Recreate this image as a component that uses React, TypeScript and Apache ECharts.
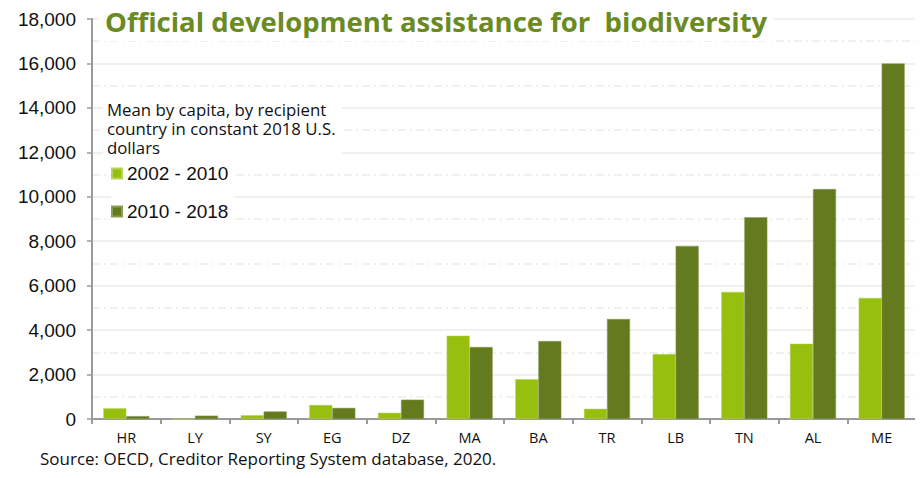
import React, { useEffect, useRef } from "react";
import * as echarts from "echarts";

const categories = ["HR", "LY", "SY", "EG", "DZ", "MA", "BA", "TR", "LB", "TN", "AL", "ME"];
const period1 = [480, 0, 170, 630, 280, 3750, 1790, 460, 2920, 5720, 3390, 5450];
const period2 = [130, 150, 340, 500, 870, 3240, 3510, 4500, 7790, 9080, 10350, 16000];
const seriesNames = ["2002 - 2010", "2010 - 2018"];
const yTicks = { min: 0, max: 18000, interval: 2000 };
const titleText = "Official development assistance for  biodiversity";
const noteText = "Mean by capita, by recipient\ncountry in constant 2018 U.S.\ndollars";
const sourceText = "Source: OECD, Creditor Reporting System database, 2020.";

const LIGHT = "#97bf0d";
const DARK = "#647a1f";

export default function App() {
  const ref = useRef<HTMLDivElement>(null);
  useEffect(() => {
    if (!ref.current) return;
    const chart = echarts.init(ref.current, null, { renderer: "svg" });
    chart.setOption({
      animation: false,
      backgroundColor: "#ffffff",
      grid: { left: 92, right: 7, top: 19, bottom: 59, containLabel: false },
      title: {
        text: titleText,
        left: 99,
        top: 4,
        padding: [3, 6, 6, 6],
        backgroundColor: "#ffffff",
        textStyle: {
          fontFamily: "Open Sans",
          fontWeight: "bold",
          fontSize: 27.5,
          color: "#6a8a22",
        },
      },
      legend: {
        orient: "vertical",
        left: 111,
        top: 164,
        itemWidth: 10,
        itemHeight: 10,
        itemGap: 19,
        padding: [0, 6, 0, 0],
        backgroundColor: "#ffffff",
        icon: "rect",
        data: seriesNames,
        textStyle: { fontFamily: "Liberation Sans", fontSize: 19, color: "#111" },
      },
      graphic: [
        {
          type: "text",
          left: 103,
          top: 99,
          z: 100,
          style: {
            text: noteText,
            fontFamily: "Open Sans",
            fontSize: 16.8,
            lineHeight: 19,
            fill: "#111",
            backgroundColor: "#ffffff",
            padding: [1, 6, 1, 4],
          },
        },
        {
          type: "text",
          left: 40,
          top: 450,
          style: {
            text: sourceText,
            fontFamily: "Open Sans",
            fontSize: 17,
            fill: "#111",
          },
        },
      ],
      xAxis: {
        type: "category",
        data: categories,
        axisLine: { lineStyle: { color: "#9a9a9a", width: 2 } },
        axisTick: { show: true, alignWithLabel: false, length: 5, lineStyle: { color: "#9a9a9a", width: 2 } },
        axisLabel: { fontFamily: "Open Sans", fontSize: 14.5, color: "#111", margin: 11 },
      },
      yAxis: {
        type: "value",
        min: yTicks.min,
        max: yTicks.max,
        interval: yTicks.interval,
        axisLine: { show: true, lineStyle: { color: "#9a9a9a", width: 2 } },
        axisTick: { show: true, length: 5, lineStyle: { color: "#9a9a9a", width: 1.5 } },
        axisLabel: {
          fontFamily: "Liberation Sans",
          fontSize: 19,
          color: "#111",
          margin: 16,
          formatter: (v: number) => v.toLocaleString("en-US"),
        },
        splitLine: { show: true, lineStyle: { color: "#ebebeb", width: 1.5 } },
        minorTick: { show: false, splitNumber: 2 },
        minorSplitLine: { show: true, lineStyle: { color: "#ebebeb", width: 1.5, type: [8, 4, 2, 4] } },
      },
      series: [
        {
          name: seriesNames[0],
          type: "bar",
          data: period1,
          barGap: "0%",
          barCategoryGap: "33%",
          itemStyle: { color: LIGHT, borderColor: "#b6d35a", borderWidth: 0.5 },
        },
        {
          name: seriesNames[1],
          type: "bar",
          data: period2,
          itemStyle: { color: DARK, borderColor: "#8a9c55", borderWidth: 0.5 },
        },
      ],
    });
    return () => chart.dispose();
  }, []);
  return <div ref={ref} style={{ width: 923, height: 478, margin: -8 }} />;
}
